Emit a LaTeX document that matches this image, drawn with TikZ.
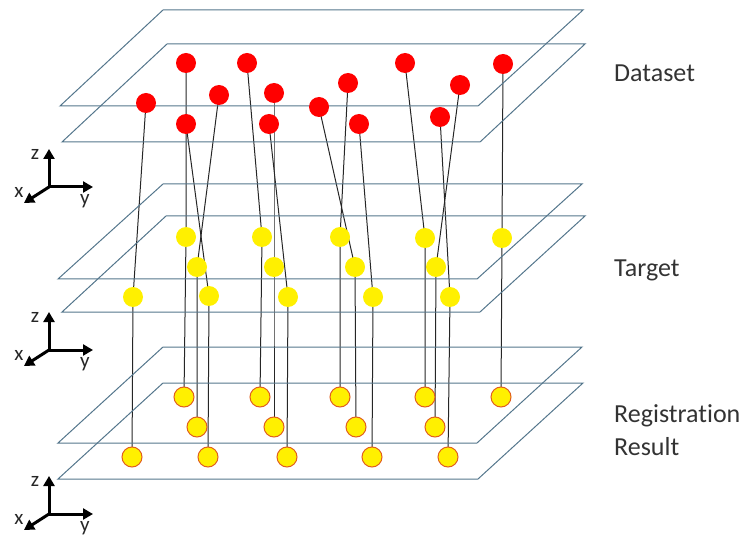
\documentclass[tikz,border=0pt]{standalone}
\usepackage{fontspec}
\setmainfont{Carlito}[Ligatures=NoCommon]
\usetikzlibrary{arrows.meta}
\definecolor{planec}{RGB}{84,118,140}
\definecolor{ddot}{RGB}{255,0,0}
\definecolor{ydot}{RGB}{255,240,0}
\definecolor{ring}{RGB}{225,95,30}
\pgfdeclarelayer{bg}
\pgfsetlayers{bg,main}
\begin{document}
\begin{tikzpicture}[x=1pt,y=-1pt,
 plane/.style={draw=planec, line width=1pt},
 reddot/.style={circle, fill=ddot, minimum size=20pt, inner sep=0pt},
 tdot/.style={circle, fill=ydot, minimum size=20pt, inner sep=0pt},
 rdot/.style={circle, fill=ydot, draw=ring, line width=1pt, minimum size=20pt, inner sep=0pt},
 link/.style={draw=black!85, line width=1pt},
 axis/.style={line width=3pt, -{Triangle[length=10pt,width=11pt]}},
 lbl/.style={font=\fontsize{26}{33}\selectfont, anchor=west, align=left, text=black!80, inner sep=0pt},
 axlbl/.style={font=\fontsize{21}{24}\selectfont, text=black!85, inner sep=0pt}]
\useasboundingbox (0,0) rectangle (744,537);

% planes
\draw[plane] (163,10) -- (583,10) -- (478,106) -- (60,106) -- cycle;
\draw[plane] (167,44) -- (585,44) -- (480,142) -- (62,142) -- cycle;
\draw[plane] (163,184) -- (582,184) -- (477,279) -- (58,279) -- cycle;
\draw[plane] (166,216) -- (585,216) -- (480,312) -- (62,312) -- cycle;
\draw[plane] (163,347) -- (582,347) -- (477,443) -- (58,443) -- cycle;
\draw[plane] (163,383) -- (583,383) -- (478,479) -- (58,479) -- cycle;

% points
\foreach \i/\dx/\dy/\tx/\ty/\rx/\ry in {
 1/186/63/186/237/184/397,
 2/219/95/197/267/197/427,
 3/146/103/133/297/132/457,
 4/186/124/209/296/208/457,
 5/247/63/262/237/260/397,
 6/274/93/274/267/274/427,
 7/269/124/288/297/287/457,
 8/348/83/340/237/340/397,
 9/319/107/355/267/356/427,
 10/359/124/373/297/372/457,
 11/405/63/425/238/425/397,
 12/460/85/436/267/435/427,
 13/440/117/450/297/448/457,
 14/503/64/502/238/501/397}{
 \node[reddot] (d\i) at (\dx,\dy) {};
 \node[tdot] (t\i) at (\tx,\ty) {};
 \node[rdot] (r\i) at (\rx,\ry) {};
 \begin{pgfonlayer}{bg}
 \draw[link] (d\i.center) -- (t\i.center) -- (r\i.center);
 \end{pgfonlayer}
}

% axes
\foreach \k/\oy in {1/187, 2/350, 3/514}{
 \coordinate (o\k) at (49,\oy);
 \coordinate (z\k) at (49,\oy-38);
 \coordinate (y\k) at (93,\oy);
 \coordinate (x\k) at (24,\oy+16);
 \draw[axis] (o\k) -- (z\k);
 \draw[axis] (o\k) -- (y\k);
 \draw[axis] (o\k) -- (x\k);
 \node[axlbl] (zl\k) at (35,\oy-33) {z};
 \node[axlbl] (yl\k) at (85,\oy+14) {y};
 \node[axlbl] (xl\k) at (19,\oy+5) {x};
}

% labels
\node[lbl] (ds) at (614,73) {Dataset};
\node[lbl] (tg) at (614,270) {Target};
\node[lbl] (rr) at (614,430) {Registration\\Result};
\end{tikzpicture}
\end{document}
